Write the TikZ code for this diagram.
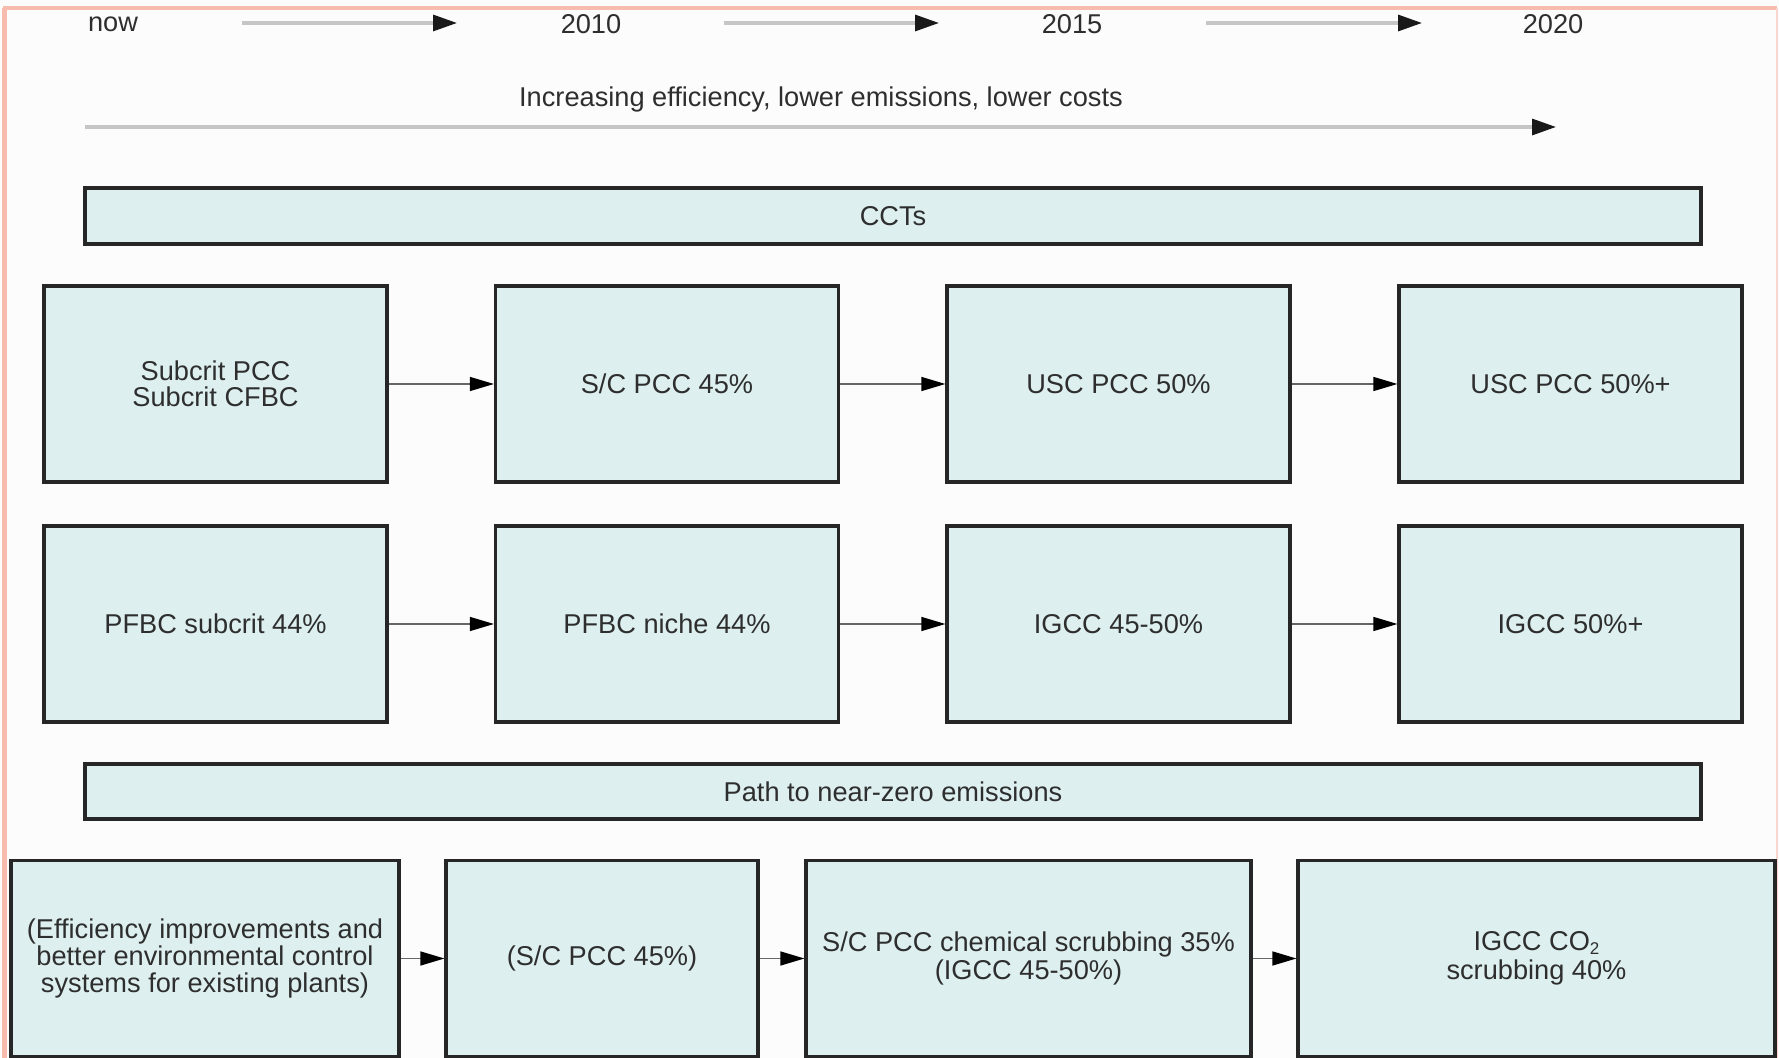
\documentclass[tikz,border=0pt]{standalone}
\usepackage{fontspec}
\setmainfont{Liberation Sans}
\usetikzlibrary{arrows.meta}
\definecolor{boxfill}{HTML}{DDEFEF}
\definecolor{framec}{HTML}{F7BCAE}
\definecolor{txt}{HTML}{2E2E2E}
\definecolor{tline}{HTML}{C6C6C6}
\begin{document}
\begin{tikzpicture}[x=0.5pt,y=-0.5pt,
  every node/.style={text=txt, font=\fontsize{13.6}{13.6}\selectfont},
  box/.style={draw=black!85, line width=1.6pt, fill=boxfill, inner sep=2pt, align=center},
  wide/.style={box, minimum width=808pt, minimum height=28pt},
  r1/.style={box, minimum width=171.5pt, minimum height=98pt},
  link/.style={draw=black!60, line width=0.7pt, -{Triangle[length=12pt,width=7pt,color=black]}},
  tarrow/.style={draw=tline, line width=1.6pt, -{Triangle[length=12pt,width=8pt,color=black!90]}},
  lbl/.style={inner sep=0pt}]
\useasboundingbox (0,0) rectangle (1779,1058);
\fill[white!99!black] (0,0) rectangle (1779,1058);
% frame
\draw[framec, line width=2.4pt] (4.5,1058) -- (4.5,8);
\draw[framec, line width=2pt] (3,8) -- (1777,8);
\draw[framec!60, line width=0.8pt] (1777,8) -- (1777,1058);
% timeline
\node[lbl] (now) at (113,24) {now};
\node[lbl] (y2010) at (591,24) {2010};
\node[lbl] (y2015) at (1072,24) {2015};
\node[lbl] (y2020) at (1553,24) {2020};
\coordinate (a1s) at (242,23); \coordinate (a1e) at (457,23);
\coordinate (a2s) at (724,23); \coordinate (a2e) at (939,23);
\coordinate (a3s) at (1206,23); \coordinate (a3e) at (1422,23);
\draw[tarrow] (a1s) -- (a1e);
\draw[tarrow] (a2s) -- (a2e);
\draw[tarrow] (a3s) -- (a3e);
\node[lbl] (incr) at (821,99) {Increasing efficiency, lower emissions, lower costs};
\coordinate (bs) at (85,127); \coordinate (be) at (1556,127);
\draw[tarrow] (bs) -- (be);
% CCTs
\node[wide] (cct) at (893,216) {CCTs};
% row 1
\node[r1] (p1) at (215.5,384) {Subcrit PCC\\[-0.4pt]Subcrit CFBC};
\node[r1] (p2) at (667,384) {S/C PCC 45\%};
\node[r1] (p3) at (1118.5,384) {USC PCC 50\%};
\node[r1] (p4) at (1570.5,384) {USC PCC 50\%+};
% row 2
\node[r1] (q1) at (215.5,624) {PFBC subcrit 44\%};
\node[r1] (q2) at (667,624) {PFBC niche 44\%};
\node[r1] (q3) at (1118.5,624) {IGCC 45-50\%};
\node[r1] (q4) at (1570.5,624) {IGCC 50\%+};
% path
\node[wide, minimum height=27.5pt] (path) at (893,791.5) {Path to near-zero emissions};
% row 3
\node[box, minimum width=194pt, minimum height=98pt] (s1) at (205,958.5) {(Efficiency improvements and\\better environmental control\\systems for existing plants)};
\node[box, minimum width=156pt, minimum height=98pt] (s2) at (602,958.5) {(S/C PCC 45\%)};
\node[box, minimum width=222.5pt, minimum height=98pt] (s3) at (1028.5,958.5) {S/C PCC chemical scrubbing 35\%\\(IGCC 45-50\%)};
\node[box, minimum width=238.5pt, minimum height=98pt] (s4) at (1536.5,958.5) {IGCC CO\raisebox{-0.3ex}{\fontsize{8.5}{8.5}\selectfont 2}\\[1pt]scrubbing 40\%};
% connectors
\draw[link] (p1) -- (p2); \draw[link] (p2) -- (p3); \draw[link] (p3) -- (p4);
\draw[link] (q1) -- (q2); \draw[link] (q2) -- (q3); \draw[link] (q3) -- (q4);
\draw[link] (s1) -- (s2); \draw[link] (s2) -- (s3); \draw[link] (s3) -- (s4);
\end{tikzpicture}
\end{document}
